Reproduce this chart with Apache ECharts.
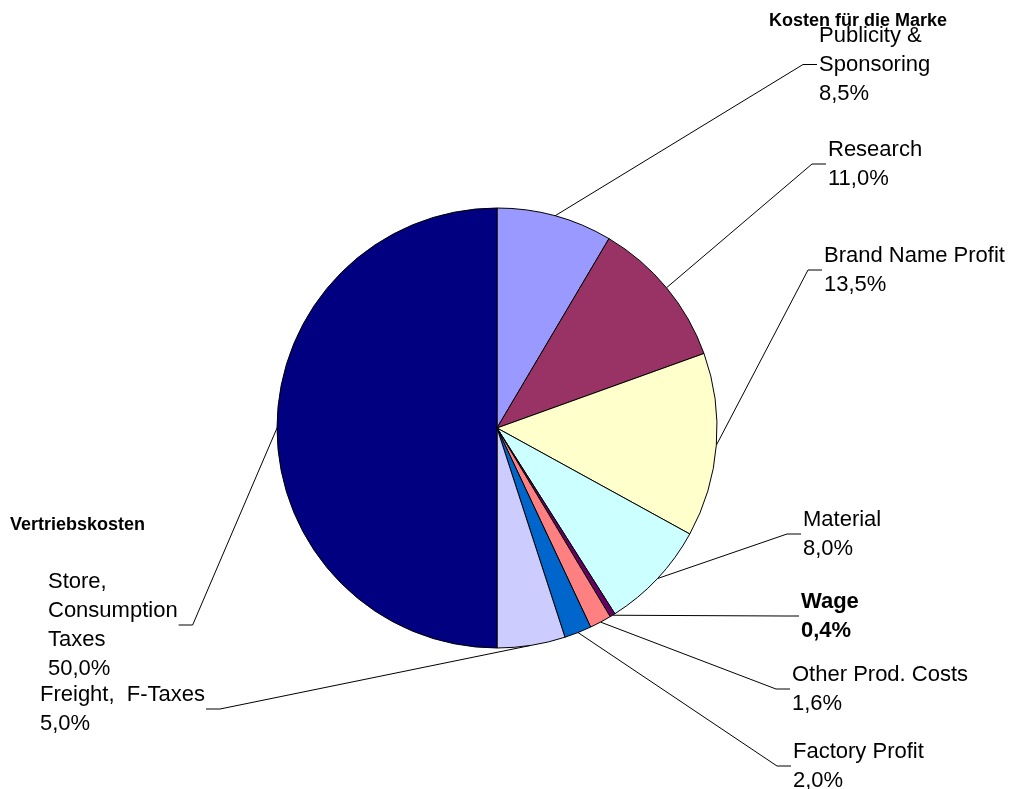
<!DOCTYPE html>
<html><head><meta charset="utf-8">
<script src="https://cdn.jsdelivr.net/npm/echarts@6/dist/echarts.min.js"></script>
<style>html,body{margin:0;padding:0;background:#fff}#c{width:1010px;height:789px}</style>
</head><body><div id="c"></div>
<script>
// ---- data ----
const categories = ['Publicity &\nSponsoring', 'Research', 'Brand Name Profit', 'Material', 'Wage',
  'Other Prod. Costs', 'Factory Profit', 'Freight,  F-Taxes', 'Store,\nConsumption\nTaxes'];
const shares = [8.5, 11.0, 13.5, 8.0, 0.4, 1.6, 2.0, 5.0, 50.0];
const groupTitles = ['Kosten für die Marke', 'Vertriebskosten'];

// ---- styles / layout ----
const colors = ['#9999FF', '#993366', '#FFFFCC', '#CCFFFF', '#660066', '#FF8080', '#0066CC', '#CCCCFF', '#000080'];
const boldIdx = [4];
const labelPos = [[819, 21], [828, 135], [824, 241], [803, 505], [801, 587], [792, 660], [793, 737], [40, 680], [48, 567]];
const FONT = "'Liberation Sans', Arial, sans-serif";

const data = categories.map((n, i) => ({
  name: n, value: shares[i],
  itemStyle: { color: colors[i] },
  label: boldIdx.includes(i) ? { fontWeight: 'bold' } : {}
}));

const chart = echarts.init(document.getElementById('c'), null, { renderer: 'canvas' });
chart.setOption({
  animation: false,
  backgroundColor: '#fff',
  title: [
    { text: groupTitles[0], left: 769, top: 12, padding: 0,
      textStyle: { fontFamily: FONT, fontSize: 18, fontWeight: 'bold', color: '#000' } },
    { text: groupTitles[1], left: 10, top: 516, padding: 0,
      textStyle: { fontFamily: FONT, fontSize: 18, fontWeight: 'bold', color: '#000' } }
  ],
  series: [{
    type: 'pie',
    center: [497, 428],
    radius: 220,
    startAngle: 90,
    clockwise: true,
    avoidLabelOverlap: false,
    data: data,
    itemStyle: { borderColor: '#000', borderWidth: 1 },
    emphasis: { disabled: true },
    label: {
      show: true, position: 'outside',
      fontFamily: FONT, fontSize: 22, lineHeight: 29, color: '#000',
      formatter: p => p.name + '\n' + p.value.toFixed(1).replace('.', ',') + '%'
    },
    labelLine: { show: true, length: 20, length2: 14, lineStyle: { color: '#000', width: 1 } },
    labelLayout: function (p) {
      const i = p.dataIndex;
      const x = labelPos[i][0], y = labelPos[i][1];
      const w = p.labelRect.width, h = p.labelRect.height;
      const leftSide = x < 400;
      const sx = leftSide ? x + w + 1 : x - 2;
      const ex = leftSide ? sx + 14 : sx - 14;
      const my = y + h / 2;
      const anchor = p.labelLinePoints ? p.labelLinePoints[0] : [ex, my];
      return { x: x, y: y, align: 'left', verticalAlign: 'top',
        labelLinePoints: [anchor, [ex, my], [sx, my]] };
    }
  }]
});
</script>
</body></html>
